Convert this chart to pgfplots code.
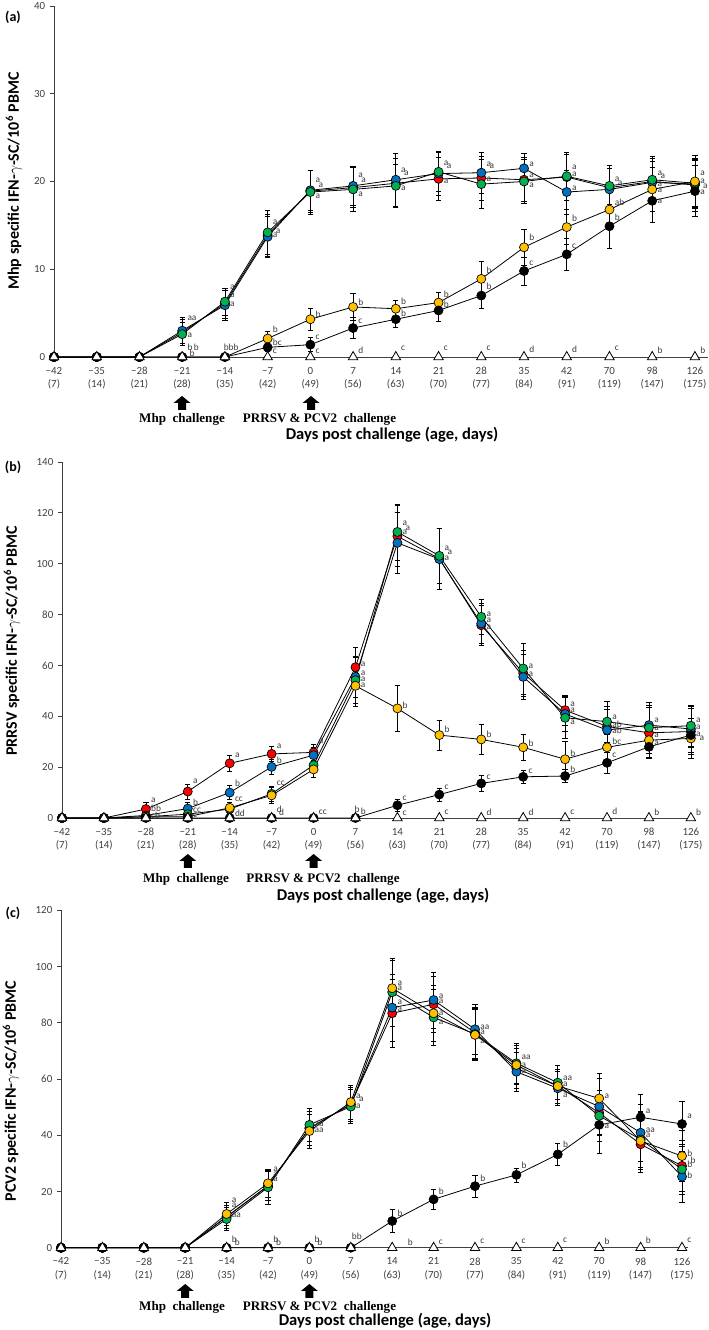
\documentclass[border=0pt]{standalone}
\usepackage{fontspec}
\setmainfont{Carlito}
\newfontfamily\chfont{Liberation Serif}
\usepackage{pgfplots}
\pgfplotsset{compat=1.18}

\definecolor{cred}{HTML}{FF0000}
\definecolor{cblue}{HTML}{0070C0}
\definecolor{cgreen}{HTML}{00B050}
\definecolor{cyel}{HTML}{FFC000}
\definecolor{axgray}{HTML}{404040}
\definecolor{tickgray}{HTML}{404040}

\pgfplotsset{
  panel/.style={
    scale only axis, clip=false,
    axis x line*=bottom, axis y line*=left,
    axis line style={axgray, line width=0.7pt, -},
    xmin=0, ymin=0,
    xtick={0,...,15},
    xticklabels={{−42\\(7)},{−35\\(14)},{−28\\(21)},{−21\\(28)},{−14\\(35)},{−7\\(42)},{0\\(49)},{7\\(56)},{14\\(63)},{21\\(70)},{28\\(77)},{35\\(84)},{42\\(91)},{70\\(119)},{98\\(147)},{126\\(175)}},
    x tick label style={align=center, font=\fontsize{8.2}{10}\selectfont, text=tickgray, yshift=-1pt},
    xtick style={draw=none},
    y tick label style={font=\fontsize{8.2}{9}\selectfont, text=tickgray},
    ytick style={axgray, line width=0.6pt},
    tick align=outside, major tick length=3pt,
    /pgf/number format/assume math mode=true,
  },
  ser/.style={black, line width=0.6pt, mark=*, mark size=3.4pt,
    mark options={fill=#1, draw=black, line width=0.5pt, solid},
    error bars/.cd, y dir=both, y explicit,
    error bar style={black, line width=0.5pt},
    error mark options={black, line width=0.5pt, mark size=2pt, rotate=90}},
  tri/.style={only marks, mark=triangle*, mark size=4.1pt,
    mark options={fill=white, draw=black, line width=0.6pt}},
}
\tikzset{lbl/.style={anchor=west, inner sep=0pt, xshift=3.8pt,
  font=\fontsize{7}{7.5}\selectfont, text=black!78}}
\newcommand{\lab}[3]{\node[lbl] at (axis cs:#1,#2) {#3};}

\begin{document}
\begin{tikzpicture}
\path[use as bounding box] (0,0) rectangle (531.75pt,997.5pt);

% ---------------- Panel (a) ----------------
\begin{axis}[panel, at={(40.5pt,729.75pt)}, anchor=south west,
  width=490.3pt, height=263.25pt, xmax=15.3, ymax=40, ytick={0,10,...,40}]
\addplot[ser=cred] coordinates {(0,0)+-(0,0) (1,0)+-(0,0) (2,0)+-(0,0) (3,2.8)+-(0,1.5) (4,6.1)+-(0,1.7) (5,13.9)+-(0,2.4) (6,18.9)+-(0,2.4) (7,19.3)+-(0,2.3) (8,19.8)+-(0,2.8) (9,20.3)+-(0,2.5) (10,20.4)+-(0,2.5) (11,20.2)+-(0,2.5) (12,20.5)+-(0,2.6) (13,19.3)+-(0,2.5) (14,20.0)+-(0,2.6) (15,19.6)+-(0,3.0)};
\addplot[ser=cblue] coordinates {(0,0)+-(0,0) (1,0)+-(0,0) (2,0)+-(0,0) (3,3.0)+-(0,1.5) (4,5.9)+-(0,1.7) (5,13.7)+-(0,2.3) (6,19.0)+-(0,2.3) (7,19.5)+-(0,2.2) (8,20.2)+-(0,3.0) (9,20.9)+-(0,2.5) (10,21.0)+-(0,2.3) (11,21.5)+-(0,1.7) (12,18.8)+-(0,2.5) (13,19.1)+-(0,2.4) (14,19.9)+-(0,2.4) (15,19.7)+-(0,2.8)};
\addplot[ser=cgreen] coordinates {(0,0)+-(0,0) (1,0)+-(0,0) (2,0)+-(0,0) (3,2.6)+-(0,1.3) (4,6.3)+-(0,1.5) (5,14.2)+-(0,2.5) (6,18.8)+-(0,2.5) (7,19.1)+-(0,2.5) (8,19.5)+-(0,2.5) (9,21.1)+-(0,2.2) (10,19.7)+-(0,2.8) (11,20.0)+-(0,2.5) (12,20.6)+-(0,2.7) (13,19.5)+-(0,2.3) (14,20.2)+-(0,2.7) (15,19.8)+-(0,2.6)};
\addplot[ser=cyel] coordinates {(0,0)+-(0,0) (1,0)+-(0,0) (2,0)+-(0,0) (3,0)+-(0,0) (4,0)+-(0,0) (5,2.1)+-(0,0.8) (6,4.3)+-(0,1.3) (7,5.7)+-(0,1.5) (8,5.5)+-(0,1.0) (9,6.2)+-(0,1.2) (10,8.9)+-(0,2.0) (11,12.5)+-(0,2.0) (12,14.8)+-(0,2.0) (13,16.8)+-(0,2.2) (14,19.1)+-(0,2.5) (15,20.0)+-(0,3.0)};
\addplot[ser=black] coordinates {(0,0)+-(0,0) (1,0)+-(0,0) (2,0)+-(0,0) (3,0)+-(0,0) (4,0)+-(0,0) (5,1.1)+-(0,0.5) (6,1.4)+-(0,0.8) (7,3.3)+-(0,1.2) (8,4.3)+-(0,0.9) (9,5.3)+-(0,1.2) (10,7.0)+-(0,1.5) (11,9.8)+-(0,1.6) (12,11.7)+-(0,1.8) (13,14.9)+-(0,2.5) (14,17.8)+-(0,2.5) (15,18.9)+-(0,2.9)};
\addplot[tri] coordinates {(0,0) (1,0) (2,0) (3,0) (4,0) (5,0) (6,0) (7,0) (8,0) (9,0) (10,0) (11,0) (12,0) (13,0) (14,0) (15,0)};
\lab{3}{4.4}{aa}\lab{3}{2.5}{a}\lab{3}{1.1}{b\,b}\lab{3.05}{0.4}{b}
\lab{4}{7.9}{a}\lab{4}{7.0}{a}\lab{4}{6.0}{a}\lab{3.85}{1.1}{bbb}
\lab{5}{15.4}{a}\lab{5}{13.9}{a}\lab{5.07}{14.3}{a}\lab{5}{3.1}{b}\lab{5}{1.7}{bc}\lab{5}{0.6}{c}
\lab{6}{20.1}{a}\lab{6.07}{19.6}{a}\lab{6}{18.3}{a}\lab{6}{4.9}{b}\lab{6}{2.2}{c}\lab{6}{0.6}{c}
\lab{7}{20.7}{a}\lab{7.07}{20.1}{a}\lab{7}{18.6}{a}\lab{7}{6.2}{b}\lab{7}{4.1}{c}\lab{7}{0.8}{d}
\lab{8}{21.3}{a}\lab{8.07}{20.9}{a}\lab{8}{19.2}{a}\lab{8}{6.3}{b}\lab{8}{5.0}{b}\lab{8}{1.0}{c}
\lab{9}{22.1}{a}\lab{9.07}{21.7}{a}\lab{9}{20.0}{a}\lab{9}{7.2}{b}\lab{9}{6.0}{b}\lab{9}{1.0}{c}
\lab{10}{22.0}{a}\lab{10.07}{21.7}{a}\lab{10}{20.2}{a}\lab{10}{9.9}{b}\lab{10}{8.1}{b}\lab{10}{1.0}{c}
\lab{11}{22.0}{a}\lab{11}{20.7}{a}\lab{11}{19.6}{a}\lab{11}{13.6}{b}\lab{11}{10.7}{c}\lab{11}{0.9}{d}
\lab{12}{21.6}{a}\lab{12}{20.8}{a}\lab{12}{19.2}{a}\lab{12}{15.8}{b}\lab{12}{12.6}{c}\lab{12}{0.9}{d}
\lab{13}{20.2}{a}\lab{13.07}{19.8}{a}\lab{13}{17.6}{ab}\lab{13}{15.9}{b}\lab{13}{1.0}{c}
\lab{14}{20.9}{a}\lab{14.07}{20.6}{a}\lab{14}{19.7}{a}\lab{14}{19.0}{a}\lab{14}{17.7}{a}\lab{14}{0.8}{b}
\lab{15}{20.9}{a}\lab{15}{20.0}{a}\lab{15.07}{19.4}{a}\lab{15}{18.8}{a}\lab{15}{0.8}{b}
\end{axis}

% ---------------- Panel (b) ----------------
\begin{axis}[panel, at={(46.5pt,384pt)}, anchor=south west,
  width=474.8pt, height=267pt, xmax=15.1, ymax=140, ytick={0,20,...,140}]
\addplot[ser=cred] coordinates {(0,0)+-(0,0) (1,0)+-(0,0) (2,3.5)+-(0,2.5) (3,10.4)+-(0,3.0) (4,21.5)+-(0,3.0) (5,25.2)+-(0,3.0) (6,25.8)+-(0,3.0) (7,59.3)+-(0,8) (8,110.8)+-(0,12) (9,102.0)+-(0,12) (10,75.8)+-(0,8) (11,57.0)+-(0,9) (12,42.4)+-(0,6) (13,36.0)+-(0,8) (14,33.5)+-(0,10) (15,34.0)+-(0,9)};
\addplot[ser=cblue] coordinates {(0,0)+-(0,0) (1,0)+-(0,0) (2,1.0)+-(0,1.0) (3,3.7)+-(0,2.5) (4,10.0)+-(0,2.8) (5,20.1)+-(0,2.8) (6,24.7)+-(0,3.0) (7,55.5)+-(0,8) (8,108.2)+-(0,12) (9,101.8)+-(0,12) (10,76.5)+-(0,8) (11,55.5)+-(0,9) (12,40.9)+-(0,7) (13,34.6)+-(0,8) (14,36.5)+-(0,9) (15,35.0)+-(0,9)};
\addplot[ser=cgreen] coordinates {(0,0)+-(0,0) (1,0)+-(0,0) (2,0.5)+-(0,0.5) (3,1.5)+-(0,1.0) (4,3.5)+-(0,2.0) (5,9.5)+-(0,3.0) (6,20.8)+-(0,3.0) (7,54.2)+-(0,9) (8,112.5)+-(0,11) (9,103.1)+-(0,11) (10,79.1)+-(0,7) (11,58.8)+-(0,10) (12,39.4)+-(0,8) (13,37.9)+-(0,8) (14,35.5)+-(0,9) (15,36.3)+-(0,8)};
\addplot[ser=cyel] coordinates {(0,0)+-(0,0) (1,0)+-(0,0) (2,0.5)+-(0,0.5) (3,0.5)+-(0,0.5) (4,4.0)+-(0,2.0) (5,8.9)+-(0,3.0) (6,19.1)+-(0,3.0) (7,52.0)+-(0,8) (8,43.1)+-(0,9) (9,32.6)+-(0,6) (10,30.9)+-(0,6) (11,27.8)+-(0,5) (12,23.1)+-(0,7) (13,27.8)+-(0,5) (14,30.6)+-(0,5) (15,31.3)+-(0,8)};
\addplot[ser=black] coordinates {(0,0)+-(0,0) (1,0)+-(0,0) (2,0)+-(0,0) (3,0)+-(0,0) (4,0)+-(0,0) (5,0)+-(0,0) (6,0)+-(0,0) (7,0)+-(0,0) (8,5.0)+-(0,2.5) (9,9.2)+-(0,2.5) (10,13.6)+-(0,3.0) (11,16.2)+-(0,2.5) (12,16.5)+-(0,2.5) (13,21.7)+-(0,4) (14,28.0)+-(0,4) (15,32.6)+-(0,5)};
\addplot[tri] coordinates {(0,0) (1,0) (2,0) (3,0) (4,0) (5,0) (6,0) (7,0) (8,0) (9,0) (10,0) (11,0) (12,0) (13,0) (14,0) (15,0)};
\lab{2}{6.8}{a}\lab{2}{3.8}{bb}\lab{2}{1.2}{cb}
\lab{3}{14.4}{a}\lab{3}{6.3}{b}\lab{3}{2.9}{cc}\lab{3}{1.0}{c}
\lab{4}{24.8}{a}\lab{4}{13.7}{b}\lab{4}{7.2}{cc}\lab{4}{2.0}{dd}
\lab{5}{28.3}{a}\lab{5}{22.8}{b}\lab{5}{13.7}{cc}\lab{5}{3.6}{d}\lab{5.05}{2.2}{d}
\lab{6}{30.2}{a}\lab{6}{2.4}{cc}
\lab{7}{60.5}{a}\lab{7}{57.1}{a}\lab{7}{54.6}{a}\lab{7}{52.0}{a}\lab{6.85}{3.6}{b}\lab{7}{2.6}{b}
\lab{8}{115.8}{a}\lab{8.07}{114.0}{a}\lab{8}{112.3}{a}\lab{8}{44.4}{b}\lab{8}{7.7}{c}\lab{8}{1.8}{c}
\lab{9}{106.2}{a}\lab{9.07}{104.6}{a}\lab{9}{102.0}{a}\lab{9}{34.8}{b}\lab{9}{11.9}{c}\lab{9}{2.1}{c}
\lab{10}{80.2}{a}\lab{10}{77.8}{a}\lab{10}{75.2}{a}\lab{10}{32.9}{b}\lab{10}{16.2}{c}\lab{10}{2.1}{d}
\lab{11}{59.7}{a}\lab{11}{56.5}{a}\lab{11}{29.3}{b}\lab{11}{18.2}{c}\lab{11}{2.1}{d}
\lab{12}{44.8}{a}\lab{12}{42.3}{a}\lab{12}{37.6}{a}\lab{12}{25.4}{b}\lab{12}{19.1}{b}\lab{12}{2.1}{c}
\lab{13}{39.8}{a}\lab{13}{36.8}{ab}\lab{13}{34.6}{ab}\lab{13}{30.0}{bc}\lab{13}{24.5}{c}\lab{13}{2.5}{d}
\lab{14}{38.5}{a}\lab{14}{35.2}{a}\lab{14}{32.4}{a}\lab{14}{29.3}{a}\lab{14}{2.4}{b}
\lab{15}{38.5}{a}\lab{15}{35.6}{a}\lab{15}{33.0}{a}\lab{15.08}{31.3}{a}\lab{15}{2.1}{b}
\end{axis}

% ---------------- Panel (c) ----------------
\begin{axis}[panel, at={(45.75pt,61.7pt)}, anchor=south west,
  width=470.4pt, height=253.05pt, xmax=15.15, ymax=120, ytick={0,20,...,120}]
\addplot[ser=cred] coordinates {(0,0)+-(0,0) (1,0)+-(0,0) (2,0)+-(0,0) (3,0)+-(0,0) (4,11.0)+-(0,4) (5,22.0)+-(0,5) (6,42.5)+-(0,6) (7,51.0)+-(0,6) (8,83.4)+-(0,12) (9,86.6)+-(0,10) (10,76.5)+-(0,9) (11,63.8)+-(0,7) (12,57.5)+-(0,6) (13,48.0)+-(0,8) (14,36.8)+-(0,10) (15,29.1)+-(0,9)};
\addplot[ser=cblue] coordinates {(0,0)+-(0,0) (1,0)+-(0,0) (2,0)+-(0,0) (3,0)+-(0,0) (4,11.0)+-(0,4) (5,22.0)+-(0,5) (6,42.5)+-(0,6) (7,51.0)+-(0,6) (8,85.4)+-(0,12) (9,88.1)+-(0,10) (10,77.7)+-(0,9) (11,62.6)+-(0,7) (12,56.7)+-(0,6) (13,50.2)+-(0,10) (14,40.9)+-(0,10) (15,25.3)+-(0,9)};
\addplot[ser=cgreen] coordinates {(0,0)+-(0,0) (1,0)+-(0,0) (2,0)+-(0,0) (3,0)+-(0,0) (4,10.2)+-(0,4) (5,21.5)+-(0,6) (6,43.7)+-(0,6) (7,50.2)+-(0,6) (8,90.9)+-(0,12) (9,81.9)+-(0,10) (10,76.0)+-(0,9) (11,65.6)+-(0,7) (12,58.7)+-(0,6) (13,46.9)+-(0,9) (14,38.5)+-(0,10) (15,27.9)+-(0,9)};
\addplot[ser=cyel] coordinates {(0,0)+-(0,0) (1,0)+-(0,0) (2,0)+-(0,0) (3,0)+-(0,0) (4,12.0)+-(0,4) (5,22.9)+-(0,5) (6,41.5)+-(0,6) (7,51.8)+-(0,6) (8,92.3)+-(0,10) (9,83.4)+-(0,10) (10,75.7)+-(0,9) (11,65.0)+-(0,7) (12,57.5)+-(0,6) (13,53.1)+-(0,9) (14,38.0)+-(0,10) (15,32.6)+-(0,9)};
\addplot[ser=black] coordinates {(0,0)+-(0,0) (1,0)+-(0,0) (2,0)+-(0,0) (3,0)+-(0,0) (4,0)+-(0,0) (5,0)+-(0,0) (6,0)+-(0,0) (7,0)+-(0,0) (8,9.5)+-(0,4) (9,17.2)+-(0,3.5) (10,21.9)+-(0,4) (11,25.9)+-(0,2.5) (12,33.2)+-(0,4) (13,43.7)+-(0,10) (14,46.4)+-(0,8) (15,44.0)+-(0,8)};
\addplot[tri] coordinates {(0,0) (1,0) (2,0) (3,0) (4,0) (5,0) (6,0) (7,0) (8,0) (9,0) (10,0) (11,0) (12,0) (13,0) (14,0) (15,0)};
\lab{4}{17.0}{a}\lab{4}{15.2}{a}\lab{4}{11.4}{aa}\lab{4}{3.0}{b}\lab{4.07}{1.8}{b}
\lab{5}{27.9}{a}\lab{5}{26.2}{a}\lab{5}{24.3}{a}\lab{5}{3.0}{b}\lab{5.07}{1.8}{b}
\lab{6}{44.0}{aa}\lab{6}{41.6}{aa}\lab{6}{3.0}{b}\lab{6.07}{1.8}{b}
\lab{7}{53.7}{a}\lab{7.07}{52.8}{a}\lab{7}{50.2}{a}\lab{6.9}{3.9}{bb}
\lab{8}{94.0}{a}\lab{8}{92.3}{a}\lab{8}{87.2}{a}\lab{8}{84.8}{a}\lab{8}{12.2}{b}\lab{8.25}{2.1}{b}
\lab{9}{89.6}{a}\lab{9}{87.5}{a}\lab{9}{83.4}{a}\lab{9}{80.1}{a}\lab{9}{19.9}{b}\lab{9}{2.1}{c}
\lab{10}{78.3}{aa}\lab{10}{76.8}{a}\lab{10}{73.3}{a}\lab{10}{24.7}{b}\lab{10}{2.4}{c}
\lab{11}{67.6}{aa}\lab{11}{64.8}{a}\lab{11}{62.7}{a}\lab{11}{29.2}{b}\lab{11}{2.4}{c}
\lab{12}{60.3}{aa}\lab{12}{58.0}{a}\lab{12}{54.3}{a}\lab{12}{36.8}{b}\lab{12}{2.7}{c}
\lab{13}{53.7}{a}\lab{13}{43.1}{a}\lab{13}{2.4}{b}
\lab{14}{48.4}{a}\lab{14}{41.9}{aa}\lab{14}{40.1}{a}\lab{14}{2.7}{b}
\lab{15}{46.9}{a}\lab{15}{33.6}{b}\lab{15.08}{31.2}{b}\lab{15}{29.6}{b}\lab{15}{25.9}{b}\lab{15}{2.7}{c}
\end{axis}

% ---------------- annotations (pixel coordinates) ----------------
\begin{scope}[x=0.75pt, y=-0.75pt, shift={(0pt,997.5pt)}]
\newcommand{\uparr}[2]{\fill (#1,#2) -- ++(8.5,7) -- ++(-4.5,0) -- ++(0,7) -- ++(-8,0) -- ++(0,-7) -- ++(-4.5,0) -- cycle;}
\tikzset{plab/.style={font=\bfseries\fontsize{10.5}{12}\selectfont},
  ylab/.style={rotate=90, font=\bfseries\fontsize{12}{13}\selectfont},
  xlab/.style={font=\bfseries\fontsize{12.4}{13}\selectfont},
  chl/.style={font=\chfont\bfseries\fontsize{9.8}{11}\selectfont}}
\node[plab] at (13,17) {(a)};
\node[plab] at (13,467) {(b)};
\node[plab] at (13,913) {(c)};
\node[ylab] at (14,181) {Mhp specific IFN-$\gamma$-SC/10\textsuperscript{6} PBMC};
\node[ylab] at (12,641) {PRRSV specific IFN-$\gamma$-SC/10\textsuperscript{6} PBMC};
\node[ylab] at (11,1091) {PCV2 specific IFN-$\gamma$-SC/10\textsuperscript{6} PBMC};
\node[xlab] at (392,435) {Days post challenge (age, days)};
\node[xlab] at (383,896) {Days post challenge (age, days)};
\node[xlab] at (385,1321) {Days post challenge (age, days)};
\node[chl] at (182,419) {Mhp\hspace{0.5em}challenge};
\node[chl] at (319.5,419) {PRRSV \& PCV2\hspace{0.5em}challenge};
\node[chl] at (186,879) {Mhp\hspace{0.5em}challenge};
\node[chl] at (323,879) {PRRSV \& PCV2\hspace{0.5em}challenge};
\node[chl] at (182,1307) {Mhp\hspace{0.5em}challenge};
\node[chl] at (319.5,1307) {PRRSV \& PCV2\hspace{0.5em}challenge};
\uparr{182}{396}\uparr{311}{396}
\uparr{187.8}{854}\uparr{313.6}{854}
\uparr{185.2}{1284}\uparr{309.4}{1284}
\end{scope}
\end{tikzpicture}
\end{document}
